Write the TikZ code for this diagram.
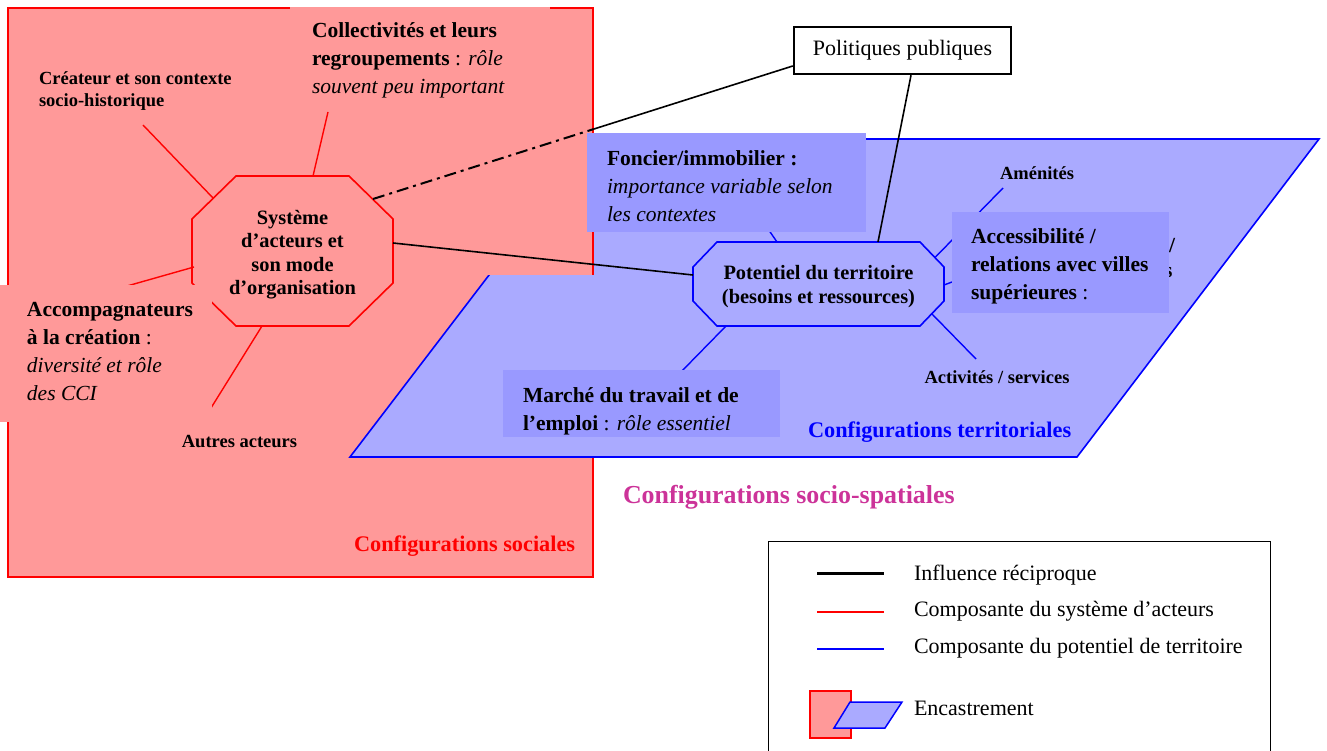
\documentclass[tikz,border=0pt]{standalone}
\usepackage{fontspec}
\setmainfont{Liberation Serif}
\usetikzlibrary{calc}
\newcommand\fsz[2]{\fontsize{#1}{#2}\selectfont}
\definecolor{pinkfill}{HTML}{FF9999}
\definecolor{parafill}{HTML}{AAAAFF}
\definecolor{boxfill}{HTML}{9999FF}
\definecolor{magtext}{HTML}{CC3399}
\begin{document}
\begin{tikzpicture}[x=1pt,y=-1pt,
  redline/.style={draw=red, line width=1.4pt},
  blueline/.style={draw=blue, line width=1.4pt},
  blackline/.style={draw=black, line width=1.6pt},
  dashdotline/.style={draw=black, line width=2pt, dash pattern=on 12pt off 5pt on 3pt off 5pt},
  plain/.style={inner sep=0pt, outer sep=0pt},
  smallbold/.style={plain, font=\fsz{18.5}{22}\bfseries},
  maintext/.style={plain, anchor=north west, align=left, font=\fsz{21.5}{28}},
  boxtext/.style={plain, align=left, font=\fsz{21.5}{28}},
  octtext/.style={plain, align=center, font=\fsz{20.4}{23.5}\bfseries},
  bluebox/.style={fill=boxfill, inner sep=0pt, outer sep=0pt, anchor=north west},
  cfglabel/.style={plain, anchor=base west, font=\fsz{22.3}{26}\bfseries},
  legtext/.style={plain, anchor=base west, font=\fsz{22}{26}},
]
\useasboundingbox (0,0) rectangle (1327,751);

% social configuration (red rectangle) and territorial configuration (parallelogram)
\filldraw[fill=pinkfill, draw=red, line width=2pt] (8,8) rectangle (593,577);
\filldraw[fill=parafill, draw=blue, line width=1.6pt] (593,139) -- (1319,139) -- (1077,457) -- (350,457) -- cycle;
\fill[pinkfill] (470,120) rectangle (592,275);
\draw[red, line width=2pt] (593,120) -- (593,275);
\fill[pinkfill] (290,7) rectangle (550,100);

% octagon: systeme d'acteurs
\coordinate (sysc) at (292.5,251);
\filldraw[fill=pinkfill, draw=red, line width=1.6pt]
  ($(sysc)+(-56.5,-75)$) -- ($(sysc)+(56.5,-75)$) -- ($(sysc)+(100.5,-32)$) -- ($(sysc)+(100.5,32)$)
  -- ($(sysc)+(56.5,75)$) -- ($(sysc)+(-56.5,75)$) -- ($(sysc)+(-100.5,32)$) -- ($(sysc)+(-100.5,-32)$) -- cycle;
\node[octtext, minimum width=201, minimum height=150] (sys) at (292.5,254.5)
  {Système\\d’acteurs et\\son mode\\d’organisation};

\coordinate (creaEnd) at (143,125);
\coordinate (collEnd) at (328,112);
\coordinate (accpEnd) at (120,288);
\coordinate (autEnd) at (206,416);
\draw[redline] ($(sys.center)+(-79.5,-56.5)$) -- (creaEnd);
\draw[redline] ($(sys.center)+(20.5,-78.5)$) -- (collEnd);
\draw[redline] ($(sys.center)+(-98.5,12.5)$) -- (accpEnd);
\draw[redline] ($(sys.center)+(-30.5,71.5)$) -- (autEnd);

\fill[pinkfill] (0,285) rectangle (212,422);
\node[maintext] (accp) at (27,302)
  {\textbf{Accompagnateurs}\\\textbf{à la création} :\\\textit{diversité et rôle}\\\textit{des CCI}};
\node[smallbold, anchor=north west, align=left] (crea) at (39,72) {Créateur et son contexte\\socio-historique};
\node[maintext] (coll) at (312,23)
  {\textbf{Collectivités et leurs}\\\textbf{regroupements} : \textit{rôle}\\\textit{souvent peu important}};
\node[smallbold, anchor=base] (autres) at (239.5,447) {Autres acteurs};

% octagon: potentiel du territoire
\coordinate (potc) at (818.5,284);
\filldraw[fill=parafill, draw=blue, line width=1.6pt]
  ($(potc)+(-101.5,-42)$) -- ($(potc)+(101.5,-42)$) -- ($(potc)+(125.5,-17)$) -- ($(potc)+(125.5,17)$)
  -- ($(potc)+(101.5,42)$) -- ($(potc)+(-101.5,42)$) -- ($(potc)+(-125.5,17)$) -- ($(potc)+(-125.5,-17)$) -- cycle;
\node[octtext, minimum width=251, minimum height=84] (pot) at (818.5,286.5)
  {Potentiel du territoire\\(besoins et ressources)};

% politiques publiques
\node[draw, line width=2.5pt, fill=white, minimum width=217, minimum height=47, inner sep=0pt,
  font=\fsz{22}{26}] (pol) at (902.5,50.5) {Politiques publiques};

% black links
\coordinate (cut) at (593,129.3);
\draw[blackline] ($(sys.center)+(100.5,-11.5)$) -- ($(pot.center)+(-125.5,-11.5)$);
\draw[dashdotline] ($(sys.center)+(80.5,-55.5)$) -- (cut);
\draw[blackline] (cut) -- ($(pol.west)+(0,15.5)$);
\draw[blackline] ($(pol.south)+(8.5,0)$) -- ($(pot.center)+(59.5,-44.5)$);

% blue links
\coordinate (fonEnd) at (766,226);
\coordinate (amenEnd) at (1003,188);
\coordinate (accEnd) at (960,279);
\coordinate (activEnd) at (976,359);
\coordinate (marEnd) at (679,374);
\draw[blueline] ($(pot.center)+(-41.5,-44.5)$) -- (fonEnd);
\draw[blueline] ($(pot.center)+(116.5,-29)$) -- (amenEnd);
\draw[blueline] ($(pot.center)+(125.5,-1.5)$) -- (accEnd);
\draw[blueline] ($(pot.center)+(113.5,27.5)$) -- (activEnd);
\draw[blueline] ($(pot.center)+(-92.5,39.5)$) -- (marEnd);

% remnants behind the accessibility box
\node[plain, anchor=base west, font=\fsz{21.5}{28}\bfseries] (slash) at (1169,253) {/};
\node[plain, anchor=base west, font=\fsz{21.5}{28}\bfseries] (sfrag) at (1164,277) {s};

% blue text boxes
\node[bluebox, minimum width=279, minimum height=99] (fon) at (587,133) {};
\node[boxtext, anchor=west] (fontxt) at ($(fon.west)+(20,3.5)$)
  {\textbf{Foncier/immobilier :}\\\textit{importance variable selon}\\\textit{les contextes}};
\node[bluebox, minimum width=217, minimum height=101] (acc) at (952,212) {};
\node[boxtext, anchor=west] (acctxt) at ($(acc.west)+(19,3.5)$)
  {\textbf{Accessibilité /}\\\textbf{relations avec villes}\\\textbf{supérieures} :};
\node[bluebox, minimum width=277, minimum height=67] (mar) at (503,370) {};
\begin{scope}
  \clip (mar.north west) rectangle (mar.south east);
  \node[boxtext, anchor=north west] (martxt) at ($(mar.north west)+(20,18)$)
    {\textbf{Marché du travail et de}\\\textbf{l’emploi} : \textit{rôle essentiel}};
\end{scope}

\node[smallbold, anchor=base] (amen) at (1037,180) {Aménités};
\node[smallbold, anchor=base] (activ) at (997,383) {Activités / services};

\node[cfglabel, text=red] (cfgsoc) at (354,551) {Configurations sociales};
\node[cfglabel, text=blue] (cfgter) at (808,437) {Configurations territoriales};
\node[plain, anchor=base west, font=\fsz{25.9}{30}\bfseries, text=magtext] (cfgss) at (623,503) {Configurations socio-spatiales};

% legend
\draw[line width=1pt] (768,753) -- (768,541) -- (1270,541) -- (1270,753);
\draw[black, line width=3pt] (817,573) -- (884,573);
\draw[red, line width=1.5pt] (817,612) -- (884,612);
\draw[blue, line width=1.5pt] (817,649) -- (884,649);
\node[legtext] (leg1) at (914,580) {Influence réciproque};
\node[legtext] (leg2) at (914,616) {Composante du système d’acteurs};
\node[legtext] (leg3) at (914,653) {Composante du potentiel de territoire};
\filldraw[fill=pinkfill, draw=red, line width=1.5pt] (810,691) rectangle (851,738);
\filldraw[fill=parafill, draw=blue, line width=1.5pt] (850,702) -- (902,702) -- (885,728) -- (834,728) -- cycle;
\node[legtext] (leg4) at (914,715) {Encastrement};
\end{tikzpicture}
\end{document}
